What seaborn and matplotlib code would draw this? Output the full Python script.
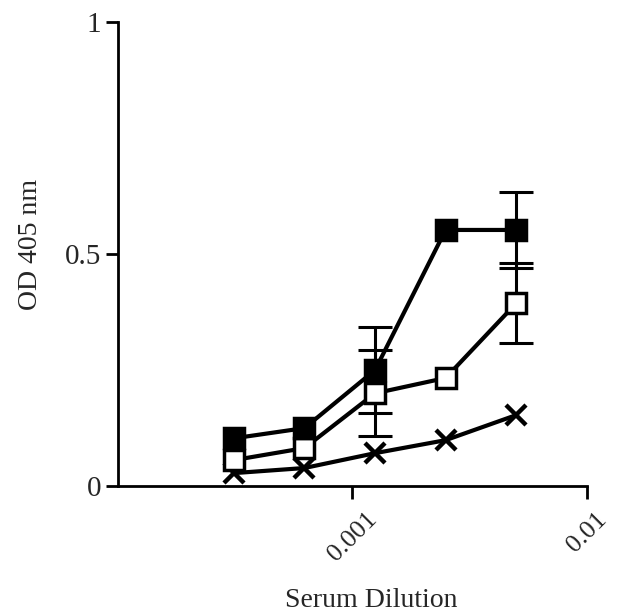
import matplotlib
matplotlib.use("Agg")
import matplotlib.pyplot as plt
import seaborn as sns
import numpy as np
import pandas as pd

dilution = [1/3200, 1/1600, 1/800, 1/400, 1/200]
filled_od = [0.103, 0.125, 0.250, 0.552, 0.552]
filled_err = [0.0, 0.0, 0.093, 0.0, 0.082]
open_od = [0.056, 0.082, 0.200, 0.233, 0.394]
open_err = [0.0, 0.0, 0.093, 0.0, 0.086]
cross_od = [0.028, 0.039, 0.071, 0.099, 0.153]
xtick_vals = [0.001, 0.01]
xtick_labels = ["0.001", "0.01"]
ytick_vals = [0, 0.5, 1]
ytick_labels = ["0", "0.5", "1"]

sns.set_theme(style="ticks")
plt.rcParams['font.family'] = ['Liberation Serif', 'DejaVu Serif']

fig = plt.figure(figsize=(6.17, 6.13), dpi=100)
ax = fig.add_axes([0.191, 0.207, 0.760, 0.757])

df = pd.DataFrame({
    "x": dilution * 3,
    "y": filled_od + open_od + cross_od,
    "group": ["filled"] * 5 + ["open"] * 5 + ["cross"] * 5,
})

for yv, ev in [(filled_od, filled_err), (open_od, open_err)]:
    idx = [i for i, e in enumerate(ev) if e > 0]
    ax.errorbar([dilution[i] for i in idx], [yv[i] for i in idx],
                yerr=[ev[i] for i in idx], fmt="none", ecolor="black",
                elinewidth=2.2, capsize=12, capthick=2.2, zorder=1)

styles = {
    "filled": dict(marker="s", markersize=14, markerfacecolor="black", markeredgecolor="black"),
    "open": dict(marker="s", markersize=14, markerfacecolor="white", markeredgecolor="black"),
    "cross": dict(marker="x", markersize=14, markeredgecolor="black"),
}
for g in ["cross", "open", "filled"]:
    sub = df[df.group == g]
    sns.lineplot(data=sub, x="x", y="y", ax=ax, color="black", linewidth=3,
                 markeredgewidth=2.5 if g != "cross" else 3.2,
                 zorder=3, **styles[g])

ax.set_xscale("log")
ax.set_xlim(1e-4, 1e-2)
ax.set_ylim(0, 1)
ax.set_xticks(xtick_vals)
ax.set_xticklabels(xtick_labels, rotation=45, ha="center", fontsize=19)
ax.xaxis.set_minor_locator(matplotlib.ticker.NullLocator())
ax.set_yticks(ytick_vals)
ax.set_yticklabels(ytick_labels, fontsize=21)
ax.tick_params(axis="both", direction="out", length=9, width=2, color="black", pad=3)
ax.tick_params(axis="x", pad=7)
for s in ["top", "right"]:
    ax.spines[s].set_visible(False)
for s in ["left", "bottom"]:
    ax.spines[s].set_linewidth(2)
    ax.spines[s].set_color("black")

ax.set_xlabel("Serum Dilution", fontsize=20)
ax.set_ylabel("OD 405 nm", fontsize=20)
ax.xaxis.set_label_coords(0.54, -0.274)
ax.yaxis.set_label_coords(-0.16, 0.52)
ax.xaxis.label.set_verticalalignment("bottom")
ax.grid(False)
ax.set_facecolor("white")
fig.patch.set_facecolor("white")

fig.savefig("out.png", dpi=100, facecolor="white")
